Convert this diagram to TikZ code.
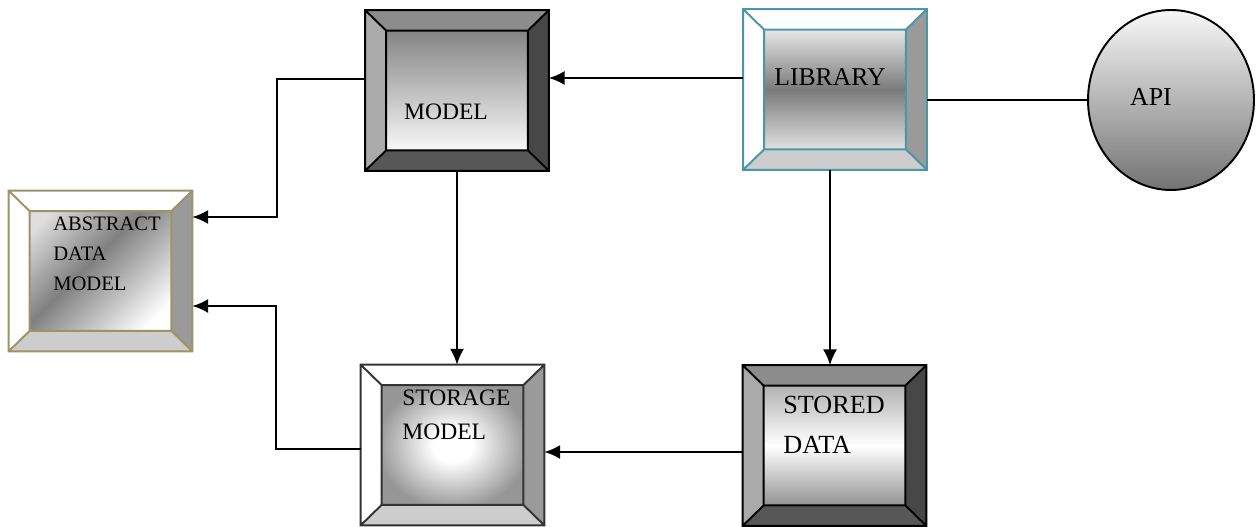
\documentclass[tikz,border=0pt]{standalone}
\usepackage{xcolor}
\usepackage{tikz}
\usepackage{fontspec}
\setmainfont{Liberation Serif}
\definecolor{bevellight}{RGB}{170, 170, 170}
\definecolor{bevelmid}{RGB}{140, 140, 140}
\definecolor{beveldark}{RGB}{71, 71, 71}
\definecolor{bevelbottom}{RGB}{87, 87, 87}
\definecolor{sidegray}{RGB}{154, 154, 154}
\definecolor{floorgray}{RGB}{205, 205, 205}
\definecolor{tealedge}{RGB}{75, 150, 168}
\definecolor{oliveedge}{RGB}{156, 148, 100}
\definecolor{glowedge}{RGB}{150, 150, 150}
\definecolor{fadelight}{RGB}{222, 222, 222}
\definecolor{fadedark}{RGB}{128, 128, 128}
\usetikzlibrary{arrows.meta,calc,shapes.geometric}
\pgfdeclareradialshading{softglow}{\pgfpoint{0bp}{0bp}}{%
  color(0bp)=(white); color(7bp)=(white); color(27bp)=(glowedge); color(50bp)=(glowedge)}
\pgfdeclareverticalshading{diagfade}{100bp}{%
  color(0bp)=(white); color(22bp)=(white); color(55bp)=(fadedark); color(80bp)=(fadelight); color(100bp)=(fadelight)}

% bevel frame between node #1 and its inner node #1-in
\newcommand{\bevelframe}[6]{%
  \fill[#3] (#1.north west) -- (#1.north east) -- (#1-in.north east) -- (#1-in.north west) -- cycle;
  \fill[#4] (#1.north west) -- (#1-in.north west) -- (#1-in.south west) -- (#1.south west) -- cycle;
  \fill[#5] (#1.north east) -- (#1.south east) -- (#1-in.south east) -- (#1-in.north east) -- cycle;
  \fill[#6] (#1.south west) -- (#1-in.south west) -- (#1-in.south east) -- (#1.south east) -- cycle;
  \draw[#2, line width=1.1pt] (#1.north west) rectangle (#1.south east)
    (#1-in.north west) rectangle (#1-in.south east)
    (#1.north west) -- (#1-in.north west) (#1.north east) -- (#1-in.north east)
    (#1.south west) -- (#1-in.south west) (#1.south east) -- (#1-in.south east);
}

\begin{document}
\begin{tikzpicture}[
    x=0.02cm, y=-0.02cm,
    block/.style={
        rectangle,
        minimum width=3.66cm,
        minimum height=3.2cm,
        inner sep=0pt
    },
    blockin/.style={
        rectangle,
        minimum width=2.82cm,
        minimum height=2.38cm,
        inner sep=0pt
    },
    caption/.style={inner sep=0pt, align=left},
    link/.style={line width=1.1pt, -{Latex[length=9pt,width=8pt]}}
]
    \fill[white] (0,0) rectangle (1258,527);
    \useasboundingbox (0,0) rectangle (1258,527);

    % Top row
    \node[block] (model) at (457,90.5) {};
    \node[blockin, top color=black!48, bottom color=white!97!black] (model-in) at (model) {};
    \bevelframe{model}{black}{bevelmid}{bevellight}{beveldark}{bevelbottom}

    \node[block] (library) at (835,89.5) {};
    \node[blockin, top color=white!90!black, bottom color=white!88!black, middle color=black!52] (library-in) at (library) {};
    \bevelframe{library}{tealedge}{white}{white}{sidegray}{floorgray}

    \node[ellipse, draw, line width=1.1pt, minimum width=3.32cm, minimum height=3.6cm,
          top color=white!97!black, bottom color=black!55] (api) at (1171,100) {};

    % Left
    \node[block] (abstract) at (100.5,271) {};
    \node[blockin, shading=diagfade, shading angle=45] (abstract-in) at (abstract) {};
    \bevelframe{abstract}{oliveedge}{white}{white}{sidegray}{floorgray}

    % Bottom row
    \node[block] (storage) at (452.5,445) {};
    \node[blockin, shading=softglow] (storage-in) at (storage) {};
    \bevelframe{storage}{black!80}{white}{white}{sidegray}{floorgray}

    \node[block] (stored) at (834.5,445.5) {};
    \node[blockin, top color=black!30, bottom color=black!42, middle color=white] (stored-in) at (stored) {};
    \bevelframe{stored}{black}{bevelmid}{bevellight}{beveldark}{bevelbottom}

    % Labels
    \node[caption, font=\fontsize{13.4}{16}\selectfont] (model-txt) at (446,112) {MODEL};
    \node[caption, font=\fontsize{14.6}{17}\selectfont] (library-txt) at (830,77.5) {LIBRARY};
    \node[caption, font=\fontsize{14.7}{17}\selectfont] (api-txt) at (1151,97) {API};
    \node[caption, anchor=north west, font=\fontsize{11.7}{17}\selectfont] (abstract-txt) at (53,217) {ABSTRACT\\DATA\\MODEL};
    \node[caption, anchor=north west, font=\fontsize{13.4}{19.3}\selectfont] (storage-txt) at (402,390) {STORAGE\\MODEL};
    \node[caption, anchor=north west, font=\fontsize{14.9}{22.7}\selectfont] (stored-txt) at (783,396) {STORED\\DATA};

    % Connectors
    \coordinate (lib-out) at ($(library.west)+(0,-11.5)$);
    \draw[link] (lib-out) -- (lib-out -| model.east);
    \draw[line width=1.1pt] (api.west -| library.east) -- (api.west);

    \coordinate (model-out) at ($(model.west)+(0,-11.5)$);
    \coordinate (abstract-hi) at ($(abstract.east)+(0,-54)$);
    \draw[link] (model-out) -- ++(-88,0) |- (abstract-hi);

    \coordinate (storage-out) at ($(storage.west)+(0,4)$);
    \coordinate (abstract-lo) at ($(abstract.east)+(0,35)$);
    \draw[link] (storage-out) -- ++(-85,0) |- (abstract-lo);

    \draw[link] (model.south) -- (model.south |- storage.north);
    \coordinate (lib-down) at ($(library.south)+(-5,0)$);
    \draw[link] (lib-down) -- (lib-down |- stored.north);

    \coordinate (stored-out) at ($(stored.west)+(0,6.5)$);
    \draw[link] (stored-out) -- (stored-out -| storage.east);
\end{tikzpicture}
\end{document}
